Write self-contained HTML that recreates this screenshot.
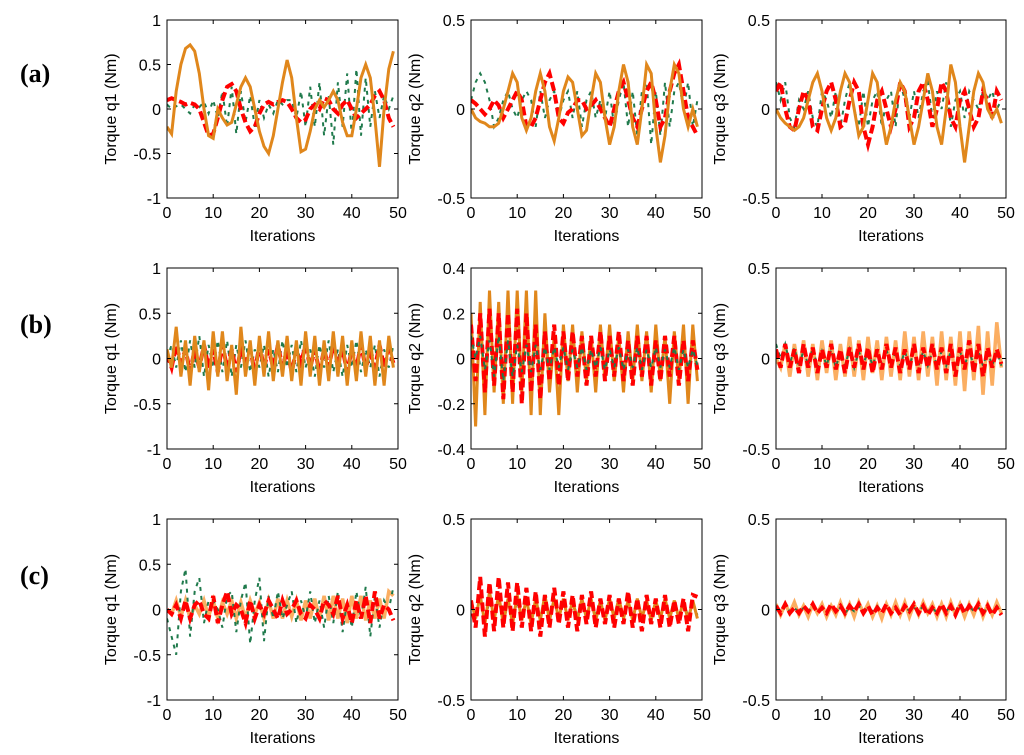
<!DOCTYPE html>
<html><head><meta charset="utf-8"><style>
body{margin:0;background:#fff;}
svg{display:block;font-family:"Liberation Sans",Arial,sans-serif;}
</style></head><body>
<svg id="fig" width="1024" height="755" viewBox="0 0 1024 755">
<text x="20" y="82" font-family="Liberation Serif,serif" font-weight="bold" font-size="26">(a)</text>
<text x="20" y="333" font-family="Liberation Serif,serif" font-weight="bold" font-size="26">(b)</text>
<text x="20" y="584" font-family="Liberation Serif,serif" font-weight="bold" font-size="26">(c)</text>
</svg>
<script>
const xTicks=[0,10,20,30,40,50];
const yTicks1=[-1,-0.5,0,0.5,1];
const yTicks05=[-0.5,0,0.5];
const yTicks04=[-0.4,-0.2,0,0.2,0.4];
const yLabels=["Torque q1 (Nm)","Torque q2 (Nm)","Torque q3 (Nm)"];

const a1Orange=[-0.2,-0.28,0.2,0.5,0.68,0.72,0.65,0.4,0.0,-0.3,-0.33,0.0,-0.1,-0.18,-0.15,0.05,0.25,0.35,0.25,0.0,-0.25,-0.42,-0.5,-0.3,0.0,0.3,0.55,0.35,-0.1,-0.48,-0.45,-0.25,0.0,0.1,0.02,0.1,0.2,0.1,-0.15,-0.3,-0.3,0.0,0.35,0.5,0.35,-0.1,-0.65,0.0,0.45,0.65];
const a1Red=[0.1,0.12,0.1,0.08,0.05,0.07,0.05,0.0,-0.15,-0.3,-0.28,-0.1,0.1,0.25,0.28,0.2,0.0,-0.15,-0.25,-0.2,-0.05,0.05,0.08,0.05,0.08,0.1,0.08,0.0,-0.1,-0.15,-0.12,0.0,0.05,0.0,0.12,0.1,0.0,-0.05,0.05,0.1,0.0,-0.1,-0.05,0.0,0.05,0.15,0.2,0.1,-0.1,-0.2];
const a1Green=[0.05,0.0,0.03,0.05,0.0,-0.05,0.05,0.02,0.08,-0.05,0.1,-0.1,0.2,-0.2,0.25,-0.28,0.2,-0.15,0.15,-0.2,0.1,-0.1,0.05,-0.05,0.1,0.05,0.1,0.1,-0.1,0.2,-0.2,0.25,-0.2,0.3,-0.3,0.15,-0.4,0.3,-0.2,0.4,-0.3,0.45,-0.3,0.35,-0.2,0.2,-0.1,0.15,0.0,0.15];
const a2Orange=[0.0,-0.05,-0.07,-0.08,-0.1,-0.1,-0.08,0.0,0.1,0.2,0.15,-0.05,-0.12,-0.05,0.1,0.2,0.1,-0.1,-0.18,-0.05,0.1,0.18,0.15,0.0,-0.15,-0.12,0.05,0.2,0.15,-0.05,-0.2,-0.1,0.1,0.25,0.15,-0.1,-0.2,0.0,0.25,0.2,-0.1,-0.3,-0.15,0.1,0.25,0.2,0.0,-0.1,0.0,-0.1];
const a2Red=[0.05,0.03,0.0,-0.03,0.0,0.05,0.02,-0.05,0.0,0.05,0.1,0.05,-0.1,-0.1,-0.05,0.05,0.15,0.2,0.1,-0.05,-0.08,-0.02,0.0,0.05,0.05,0.0,0.02,0.05,0.0,-0.05,-0.1,0.0,0.1,0.15,0.05,-0.05,-0.1,0.0,0.1,0.15,0.05,-0.1,-0.05,0.1,0.2,0.25,0.1,-0.05,-0.1,-0.15];
const a2Green=[0.05,0.15,0.2,0.15,0.05,-0.1,-0.05,0.05,0.1,0.0,-0.05,0.05,0.1,0.05,-0.1,0.1,-0.05,0.05,0.1,-0.05,0.05,0.1,-0.05,0.1,-0.1,0.05,0.1,-0.05,0.05,-0.05,0.1,-0.1,0.05,0.15,-0.1,0.1,-0.15,0.1,0.15,-0.2,0.1,-0.15,0.15,-0.1,0.1,0.15,0.0,0.15,-0.1,0.05];
const a3Orange=[0.0,-0.05,-0.08,-0.1,-0.12,-0.1,-0.05,0.05,0.15,0.2,0.1,-0.05,-0.12,-0.05,0.1,0.2,0.15,0.0,-0.15,-0.1,0.05,0.2,0.15,-0.05,-0.2,-0.1,0.05,0.15,0.1,-0.05,-0.2,-0.1,0.05,0.2,0.1,-0.1,-0.2,0.0,0.25,0.15,-0.1,-0.3,-0.1,0.1,0.2,0.15,0.0,-0.05,0.0,-0.08];
const a3Red=[0.1,0.15,0.0,-0.1,-0.12,0.0,0.1,0.05,-0.1,-0.12,0.0,0.1,0.15,0.05,-0.1,-0.08,0.05,0.15,0.1,-0.1,-0.2,-0.1,0.05,0.1,0.0,-0.1,0.0,0.15,0.1,-0.1,-0.05,0.1,0.15,0.05,-0.1,0.0,0.15,0.1,-0.05,-0.1,0.05,0.1,0.0,-0.1,-0.05,0.1,0.05,-0.05,0.1,0.05];
const a3Green=[0.15,0.05,0.15,-0.05,-0.1,0.05,0.0,0.1,-0.05,-0.1,0.1,0.05,-0.05,0.1,-0.1,0.05,0.15,0.0,-0.1,0.1,-0.1,0.05,0.1,-0.1,0.05,0.1,-0.1,0.15,0.05,-0.05,0.1,-0.05,0.1,0.15,-0.05,0.1,0.0,0.15,-0.1,0.05,0.1,-0.05,0.1,0.05,0.0,0.1,0.05,0.1,0.0,0.05];
const b1Orange=[0.1,-0.1,0.35,-0.2,0.2,-0.3,0.25,-0.15,0.2,-0.35,0.3,-0.2,0.3,-0.25,0.15,-0.4,0.35,-0.2,0.2,-0.3,0.25,-0.2,0.3,-0.25,0.2,-0.2,0.25,-0.25,0.2,-0.3,0.3,-0.2,0.25,-0.3,0.2,-0.25,0.3,-0.2,0.25,-0.3,0.2,-0.25,0.3,-0.2,0.25,-0.3,0.2,-0.3,0.25,-0.1];
const b1Red=[0.05,-0.1,0.15,-0.05,0.1,-0.15,0.1,-0.1,0.15,-0.1,0.1,-0.15,0.15,-0.1,0.1,-0.15,0.1,-0.05,0.1,-0.15,0.15,-0.1,0.1,-0.1,0.15,-0.1,0.1,-0.15,0.1,-0.05,0.15,-0.1,0.1,-0.15,0.1,-0.1,0.15,-0.05,0.1,-0.15,0.1,-0.1,0.15,-0.1,0.05,-0.1,0.15,-0.1,0.1,-0.05];
const b1Green=[0.0,0.15,-0.1,0.2,-0.15,0.2,-0.1,0.25,-0.2,0.15,-0.1,0.2,-0.15,0.2,-0.2,0.15,-0.1,0.2,-0.15,0.1,-0.1,0.15,-0.2,0.1,-0.15,0.2,-0.1,0.15,-0.15,0.2,-0.1,0.1,-0.2,0.15,-0.1,0.2,-0.15,0.1,-0.2,0.15,-0.1,0.2,-0.15,0.1,-0.1,0.15,-0.2,0.1,-0.1,0.15];
const b2Orange=[0.2,-0.3,0.25,-0.25,0.3,-0.15,0.25,-0.2,0.3,-0.2,0.3,-0.15,0.3,-0.25,0.3,-0.25,0.2,-0.15,0.1,-0.25,0.15,-0.1,0.15,-0.15,0.12,-0.1,0.1,-0.15,0.15,-0.1,0.15,-0.1,0.1,-0.15,0.12,-0.1,0.15,-0.1,0.12,-0.15,0.15,-0.1,0.1,-0.2,0.12,-0.1,0.15,-0.2,0.15,-0.1];
const b2Red=[0.15,-0.1,0.2,-0.15,0.22,-0.12,0.2,-0.18,0.2,-0.15,0.22,-0.2,0.2,-0.15,0.15,-0.18,0.12,-0.1,0.15,-0.12,0.12,-0.1,0.12,-0.08,0.1,-0.12,0.1,-0.08,0.12,-0.1,0.1,-0.08,0.12,-0.1,0.08,-0.12,0.1,-0.08,0.1,-0.12,0.08,-0.1,0.1,-0.08,0.1,-0.12,0.08,-0.1,0.08,-0.05];
const b2Green=[0.1,0.0,0.1,-0.05,0.08,-0.08,0.1,-0.1,0.08,-0.08,0.06,-0.06,0.06,-0.06,0.06,-0.05,0.05,-0.05,0.05,-0.04,0.05,-0.05,0.04,-0.04,0.05,-0.05,0.04,-0.04,0.05,-0.05,0.04,-0.04,0.05,-0.05,0.04,-0.04,0.05,-0.05,0.04,-0.04,0.05,-0.04,0.04,-0.04,0.05,-0.05,0.04,-0.04,0.04,-0.03];
const b3Light=[0.0,-0.05,0.08,-0.1,0.08,-0.08,0.1,-0.1,0.08,-0.12,0.1,-0.08,0.1,-0.12,0.08,-0.1,0.12,-0.1,0.1,-0.12,0.12,-0.08,0.1,-0.12,0.12,-0.1,0.1,-0.12,0.15,-0.1,0.12,-0.12,0.15,-0.1,0.12,-0.15,0.15,-0.12,0.12,-0.15,0.15,-0.18,0.15,-0.12,0.18,-0.2,0.15,-0.15,0.2,-0.05];
const b3Red=[0.05,-0.05,0.08,-0.05,0.05,-0.08,0.08,-0.05,0.06,-0.08,0.05,-0.05,0.08,-0.06,0.05,-0.08,0.06,-0.05,0.08,-0.06,0.06,-0.08,0.05,-0.06,0.08,-0.05,0.06,-0.08,0.05,-0.06,0.08,-0.08,0.06,-0.05,0.08,-0.06,0.06,-0.08,0.08,-0.1,0.06,-0.06,0.1,-0.08,0.08,-0.1,0.06,-0.05,0.05,-0.03];
const b3Green=[0.08,0.0,0.08,-0.03,0.06,-0.05,0.05,-0.04,0.06,-0.05,0.04,-0.04,0.05,-0.05,0.04,-0.04,0.05,-0.05,0.04,-0.03,0.04,-0.04,0.04,-0.04,0.05,-0.04,0.04,-0.04,0.04,-0.04,0.04,-0.04,0.04,-0.04,0.04,-0.04,0.04,-0.04,0.04,-0.04,0.04,-0.04,0.04,-0.04,0.04,-0.04,0.04,-0.04,0.04,-0.04];
const c1Light=[0.0,-0.05,0.1,-0.08,0.1,-0.1,0.05,-0.05,0.1,-0.08,0.1,-0.1,0.08,-0.05,0.1,-0.1,0.08,-0.1,0.1,-0.05,0.08,-0.1,0.1,-0.1,0.12,-0.1,0.1,-0.08,0.1,-0.12,0.1,-0.1,0.12,-0.1,0.15,-0.12,0.15,-0.1,0.12,-0.15,0.15,-0.1,0.15,-0.12,0.1,-0.1,0.12,-0.1,0.2,0.15];
const c1Red=[0.0,-0.05,0.05,-0.1,0.1,-0.1,0.05,0.1,-0.05,-0.1,0.15,-0.15,0.05,0.2,-0.05,0.05,0.0,-0.15,0.1,-0.1,0.05,-0.05,0.1,0.0,-0.1,0.1,-0.05,0.0,0.1,-0.05,-0.1,0.05,0.0,-0.1,0.1,0.05,-0.05,0.15,-0.1,0.05,-0.15,0.1,-0.1,0.15,-0.15,0.2,-0.1,0.05,0.0,-0.12];
const c1Green=[-0.1,-0.3,-0.5,0.2,0.45,-0.3,0.2,0.35,-0.15,0.1,0.1,0.0,-0.2,0.15,0.2,-0.25,0.1,0.3,-0.38,0.1,0.35,-0.35,0.15,-0.1,0.2,-0.1,0.05,0.2,-0.15,0.1,-0.1,0.2,-0.15,0.1,-0.2,0.15,-0.15,0.2,-0.25,0.1,-0.2,0.2,-0.1,0.25,-0.3,0.15,-0.2,0.1,0.0,0.25];
const c2Red=[0.05,-0.1,0.18,-0.15,0.15,-0.12,0.18,-0.1,0.15,-0.12,0.15,-0.1,0.12,-0.12,0.1,-0.15,0.08,-0.1,0.12,-0.08,0.1,-0.1,0.08,-0.12,0.08,-0.08,0.1,-0.1,0.06,-0.08,0.08,-0.1,0.06,-0.08,0.1,-0.1,0.06,-0.12,0.08,-0.08,0.06,-0.1,0.08,-0.1,0.05,-0.08,0.06,-0.12,0.08,0.07];
const c2Orange=[0.05,-0.05,0.08,-0.08,0.1,-0.06,0.08,-0.08,0.06,-0.08,0.08,-0.06,0.06,-0.08,0.06,-0.06,0.08,-0.06,0.06,-0.05,0.06,-0.06,0.05,-0.06,0.06,-0.05,0.06,-0.06,0.05,-0.06,0.06,-0.05,0.06,-0.05,0.05,-0.06,0.06,-0.05,0.05,-0.06,0.05,-0.05,0.06,-0.05,0.05,-0.05,0.05,-0.06,0.05,-0.05];
const c2Green=[0.03,-0.03,0.05,-0.05,0.04,-0.04,0.05,-0.05,0.04,-0.04,0.04,-0.04,0.04,-0.04,0.04,-0.04,0.03,-0.03,0.04,-0.04,0.03,-0.03,0.04,-0.03,0.03,-0.03,0.04,-0.03,0.03,-0.03,0.03,-0.03,0.03,-0.03,0.03,-0.03,0.03,-0.03,0.03,-0.03,0.03,-0.03,0.03,-0.03,0.03,-0.03,0.03,-0.03,0.03,-0.03];
const c3Light=[0.03,-0.03,0.03,-0.02,0.04,-0.03,0.02,-0.04,0.03,-0.02,0.03,-0.04,0.02,-0.03,0.04,-0.03,0.03,-0.04,0.04,-0.02,0.03,-0.04,0.02,-0.05,0.03,-0.03,0.04,-0.03,0.04,-0.04,0.03,-0.03,0.04,-0.02,0.03,-0.04,0.03,-0.04,0.04,-0.03,0.03,-0.04,0.03,-0.03,0.04,-0.04,0.03,-0.03,0.04,-0.02];
const c3Red=[0.02,-0.02,0.03,-0.02,0.01,-0.02,0.02,-0.01,0.03,-0.02,0.01,-0.02,0.03,-0.01,0.02,-0.02,0.02,-0.01,0.03,-0.02,0.02,-0.03,0.01,-0.02,0.03,-0.02,0.01,-0.03,0.02,-0.01,0.03,-0.02,0.02,-0.03,0.01,-0.02,0.03,-0.02,0.02,-0.03,0.03,-0.02,0.02,-0.01,0.03,-0.02,0.02,-0.03,0.01,-0.03];
const c3Green=[0.01,-0.01,0.02,-0.01,0.01,-0.02,0.01,-0.01,0.02,-0.01,0.01,-0.01,0.02,-0.01,0.01,-0.02,0.01,-0.01,0.02,-0.01,0.01,-0.01,0.02,-0.01,0.01,-0.02,0.01,-0.01,0.02,-0.01,0.01,-0.01,0.02,-0.01,0.01,-0.02,0.01,-0.01,0.02,-0.01,0.01,-0.01,0.02,-0.01,0.01,-0.02,0.01,-0.01,0.02,-0.01];

const NS="http://www.w3.org/2000/svg";
const svg=document.getElementById('fig');
const cols=[[167,398],[471,702],[776,1006]];
const rows=[[20,198],[268,449],[519,700]];
const ORANGE="#e0871c",RED="#ff0000",GREEN="#1f7a4c",LIGHT="#fbae62";
const styles={orange:{c:ORANGE,w:3,d:null},red:{c:RED,w:4,d:"9,4"},green:{c:GREEN,w:2,d:"4,5"},light:{c:LIGHT,w:3.5,d:null}};
const panels=[
 {r:0,c:0,yt:yTicks1,s:[["green",a1Green],["red",a1Red],["orange",a1Orange]]},
 {r:0,c:1,yt:yTicks05,s:[["green",a2Green],["red",a2Red],["orange",a2Orange]]},
 {r:0,c:2,yt:yTicks05,s:[["green",a3Green],["red",a3Red],["orange",a3Orange]]},
 {r:1,c:0,yt:yTicks1,s:[["green",b1Green],["red",b1Red],["orange",b1Orange]]},
 {r:1,c:1,yt:yTicks04,s:[["orange",b2Orange],["red",b2Red],["green",b2Green]]},
 {r:1,c:2,yt:yTicks05,s:[["light",b3Light],["green",b3Green],["red",b3Red]]},
 {r:2,c:0,yt:yTicks1,s:[["light",c1Light],["green",c1Green],["red",c1Red]]},
 {r:2,c:1,yt:yTicks05,s:[["green",c2Green],["orange",c2Orange],["red",c2Red]]},
 {r:2,c:2,yt:yTicks05,s:[["light",c3Light],["green",c3Green],["red",c3Red]]}
];
function mk(tag,attrs,parent){const e=document.createElementNS(NS,tag);for(const k in attrs)e.setAttribute(k,attrs[k]);(parent||svg).appendChild(e);return e;}
panels.forEach((p,pi)=>{
 const [x0,x1]=cols[p.c],[y0,y1]=rows[p.r];
 const ymin=p.yt[0],ymax=p.yt[p.yt.length-1];
 const X=v=>x0+(v-0)/(50-0)*(x1-x0);
 const Y=v=>y1-(v-ymin)/(ymax-ymin)*(y1-y0);
 const g=mk('g',{});
 
 
 const cid='clip'+pi;
 const cp=mk('clipPath',{id:cid},g);mk('rect',{x:x0,y:y0,width:x1-x0,height:y1-y0},cp);
 const sg=mk('g',{'clip-path':'url(#'+cid+')'},g);
 p.s.forEach(([k,arr])=>{
  const st=styles[k];
  const pts=arr.map((v,i)=>X(i).toFixed(1)+','+Y(v).toFixed(1)).join(' ');
  const pl=mk('polyline',{points:pts,fill:'none',stroke:st.c,'stroke-width':st.w,'stroke-linejoin':'miter'},sg);
  if(st.d)pl.setAttribute('stroke-dasharray',st.d);
  
  
 });
 const box=mk('rect',{x:x0,y:y0,width:x1-x0,height:y1-y0,fill:'none',stroke:'#000','stroke-width':1},g);
 
 
 xTicks.forEach(t=>{
  const x=X(t);
  mk('line',{x1:x,x2:x,y1:y1,y2:y1-4,stroke:'#000'},g);
  mk('line',{x1:x,x2:x,y1:y0,y2:y0+4,stroke:'#000'},g);
  const tx=mk('text',{x:x,y:y1+20,'font-size':16,'text-anchor':'middle'},g);tx.textContent=t;
  
  
 });
 p.yt.forEach(t=>{
  const y=Y(t);
  mk('line',{x1:x0,x2:x0+4,y1:y,y2:y,stroke:'#000'},g);
  mk('line',{x1:x1,x2:x1-4,y1:y,y2:y,stroke:'#000'},g);
  const tx=mk('text',{x:x0-6,y:y+6,'font-size':16,'text-anchor':'end'},g);tx.textContent=String(t);
  
  
 });
 const xl=mk('text',{x:(x0+x1)/2,y:y1+43,'font-size':16,'text-anchor':'middle'},g);xl.textContent='Iterations';
 
 
 const yc=(y0+y1)/2,yx=x0-51;
 const yl=mk('text',{x:yx,y:yc,'font-size':16,'text-anchor':'middle',transform:`rotate(-90 ${yx} ${yc})`},g);yl.textContent=yLabels[p.c];
 
 
});
</script>
</body></html>
